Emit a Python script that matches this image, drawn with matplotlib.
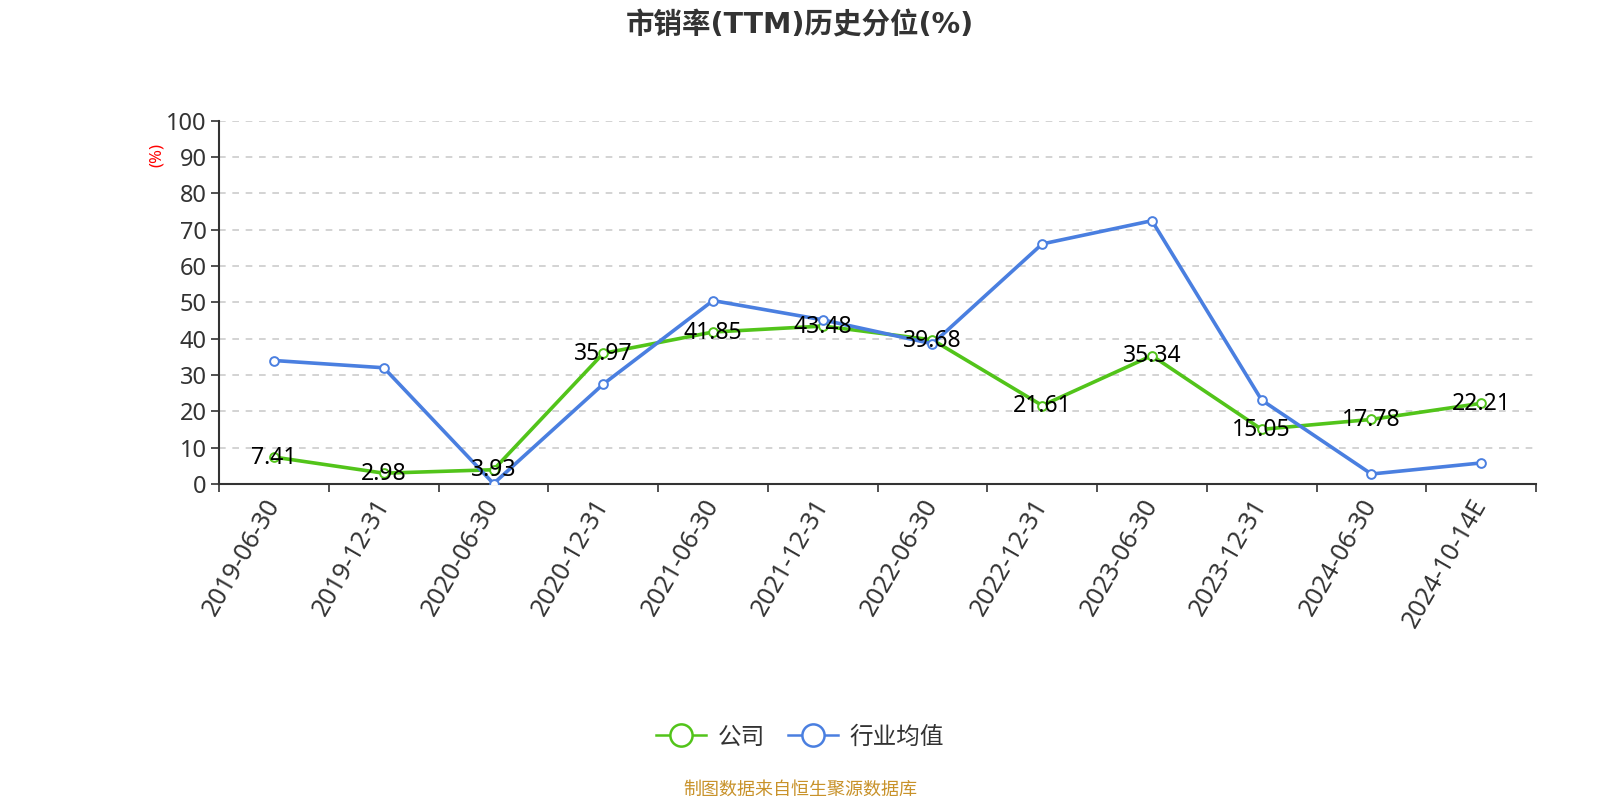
import numpy as np
import matplotlib
matplotlib.use('Agg')
import matplotlib.pyplot as plt
from matplotlib.lines import Line2D

plt.rcParams['font.family'] = ['Noto Sans', 'Noto Sans CJK SC', 'DejaVu Sans']

dates = ['2019-06-30', '2019-12-31', '2020-06-30', '2020-12-31', '2021-06-30',
         '2021-12-31', '2022-06-30', '2022-12-31', '2023-06-30', '2023-12-31',
         '2024-06-30', '2024-10-14E']
company = [7.41, 2.98, 3.93, 35.97, 41.85, 43.48, 39.68, 21.61, 35.34, 15.05, 17.78, 22.21]
industry = [34.0, 32.0, 0.1, 27.5, 50.5, 45.2, 38.6, 66.1, 72.5, 23.1, 2.75, 5.8]
yticks = [0, 10, 20, 30, 40, 50, 60, 70, 80, 90, 100]

green = '#52c41a'
blue = '#4a7fe0'
dark = '#333333'

fig = plt.figure(figsize=(16, 8), dpi=100)
ax = fig.add_axes([0.137, 0.395, 0.823, 0.454])

x = np.arange(len(dates))
ax.plot(x, company, color=green, lw=2.6, marker='o', ms=6.3, mfc='white',
        mec=green, mew=1.4, zorder=3)
ax.plot(x, industry, color=blue, lw=2.6, marker='o', ms=6.3, mfc='white',
        mec=blue, mew=1.4, zorder=4)
for xi, v in zip(x, company):
    ax.annotate('%.2f' % v, (xi, v), xytext=(0, -0.5), textcoords='offset points',
                ha='center', va='center', fontsize=16.5, color='black', zorder=6)

ax.set_xlim(-0.5, len(dates) - 0.5)
ax.set_ylim(0, 100)
ax.set_yticks(yticks)
ax.set_xticks(x)
ax.set_xticklabels(dates, rotation=60, ha='right', va='center', rotation_mode='anchor')
ax.set_xticks(np.arange(-0.5, len(dates), 1), minor=True)
ax.tick_params(axis='x', which='major', length=0, pad=12, labelsize=18, labelcolor=dark)
ax.tick_params(axis='x', which='minor', length=6, width=1.2, color=dark)
ax.tick_params(axis='y', length=6, width=1.2, color=dark, labelsize=17, labelcolor=dark, pad=3)

for v in yticks[1:]:
    ax.axhline(v, color='#cccccc', lw=1.2, ls=(0, (4, 4)), zorder=1)

for s in ['top', 'right']:
    ax.spines[s].set_visible(False)
for s in ['left', 'bottom']:
    ax.spines[s].set_color(dark)
    ax.spines[s].set_linewidth(1.5)

fig.text(0.098, 0.806, '(%)', color='red', fontsize=12, rotation=90, ha='center', va='center')

fig.text(0.5, 0.968, '市销率(TTM)历史分位(%)', ha='center', va='center',
         fontsize=20.5, fontweight='bold', color=dark,
         family=['DejaVu Sans', 'Noto Sans CJK SC'])

handles = [Line2D([], [], color=green, lw=1.8, marker='o', ms=16, mfc='white', mec=green, mew=1.8),
           Line2D([], [], color=blue, lw=1.8, marker='o', ms=16, mfc='white', mec=blue, mew=1.8)]
fig.legend(handles, ['公司', '行业均值'], loc='center', bbox_to_anchor=(0.5, 0.078),
           ncol=2, frameon=False, fontsize=17, handlelength=2.1, columnspacing=1.0,
           handletextpad=0.5, labelcolor=dark)

fig.text(0.5, 0.013, '制图数据来自恒生聚源数据库', ha='center', va='center',
         fontsize=13, color='#c8922a')

fig.savefig('out.png', dpi=100)
